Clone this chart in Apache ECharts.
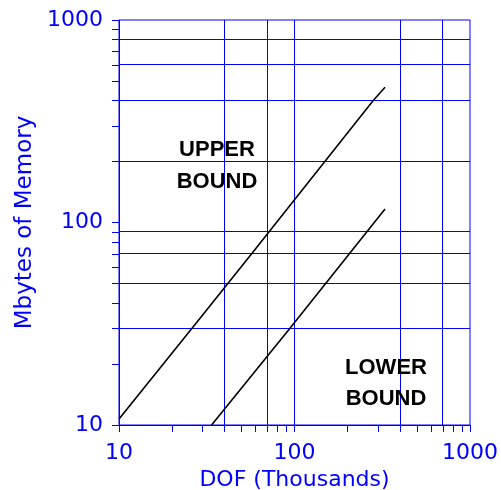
<!DOCTYPE html>
<html><head><meta charset="utf-8">
<script src="https://cdn.jsdelivr.net/npm/echarts@6/dist/echarts.min.js"></script>
<style>html,body{margin:0;padding:0;background:#fff}#c{width:501px;height:490px}</style>
</head><body><div id="c"></div>
<script>
const upperX = [10, 26, 57, 281, 328];
const upperY = [10.7, 30, 70, 400, 465];
const lowerX = [33.7, 94, 328];
const lowerY = [10, 30, 116.6];
const xGridValues = [40, 70, 100, 400, 700];
const yGridValues = [30, 50, 70, 90, 200, 400, 600, 800];
const tickValues = [10, 20, 30, 40, 50, 60, 70, 80, 90, 100, 200, 300, 400, 500, 600, 700, 800, 900, 1000];
const labelValues = [10, 100, 1000];
const axisMin = 10, axisMax = 1000;

const BLUE = '#0000ff';
const FONT = '"DejaVu Sans", sans-serif';

function pairs(xs, ys) { return xs.map((x, i) => [x, ys[i]]); }
// gridline items: [x, y, orientation] (0 = vertical at x, 1 = horizontal at y)
const gridItems = xGridValues.map(v => [v, axisMin, 0]).concat(yGridValues.map(v => [axisMin, v, 1]));
const snap = c => Math.floor(c) + 0.5;

const chart = echarts.init(document.getElementById('c'), null, {renderer: 'canvas'});
const axisCommon = {
  type: 'log', logBase: 10, min: axisMin, max: axisMax,
  axisLine: {show: true, lineStyle: {color: BLUE, width: 1}},
  axisTick: {show: true, inside: false, length: 7, customValues: tickValues, lineStyle: {color: BLUE, width: 1}},
  minorTick: {show: false},
  splitLine: {show: false},
  nameTextStyle: {color: BLUE, fontFamily: FONT, fontSize: 22}
};
const fmt = v => String(Math.round(v));
chart.setOption({
  animation: false,
  backgroundColor: '#fff',
  grid: {left: 119, top: 20, right: 31, bottom: 65, outerBoundsMode: 'none', containLabel: false,
         show: true, borderColor: BLUE, borderWidth: 1, backgroundColor: 'transparent'},
  xAxis: Object.assign({}, axisCommon, {
    name: 'DOF (Thousands)', nameLocation: 'middle', nameGap: 41,
    axisLabel: {show: true, customValues: labelValues, formatter: fmt, margin: 17, color: BLUE, fontFamily: FONT, fontSize: 22, showMinLabel: true, showMaxLabel: true}
  }),
  yAxis: Object.assign({}, axisCommon, {
    name: 'Mbytes of Memory', nameLocation: 'middle', nameGap: 74,
    nameTextStyle: {color: BLUE, fontFamily: FONT, fontSize: 23},
    axisLabel: {show: true, customValues: labelValues, formatter: fmt, margin: 16, padding: [5, 0, 0, 0], color: BLUE, fontFamily: FONT, fontSize: 22, showMinLabel: true, showMaxLabel: true}
  }),
  series: [
    {
      name: 'gridlines', type: 'custom', data: gridItems, z: 1, silent: true,
      encode: {x: 0, y: 1},
      renderItem: function (params, api) {
        const o = api.value(2);
        let p1, p2;
        if (o === 0) {
          const v = api.value(0);
          p1 = api.coord([v, axisMin]); p2 = api.coord([v, axisMax]);
          p1[0] = p2[0] = snap(p1[0]);
        } else {
          const v = api.value(1);
          p1 = api.coord([axisMin, v]); p2 = api.coord([axisMax, v]);
          p1[1] = p2[1] = snap(p1[1]);
        }
        return {type: 'line', shape: {x1: p1[0], y1: p1[1], x2: p2[0], y2: p2[1]},
                style: {stroke: BLUE, lineWidth: 1, fill: null, opacity: 1}};
      }
    },
    {name: 'Upper bound', type: 'line', data: pairs(upperX, upperY), showSymbol: false, symbol: 'none', z: 3,
     lineStyle: {color: '#000', width: 1.6}, silent: true},
    {name: 'Lower bound', type: 'line', data: pairs(lowerX, lowerY), showSymbol: false, symbol: 'none', z: 3,
     lineStyle: {color: '#000', width: 1.6}, silent: true}
  ],
  graphic: [
    {type: 'text', z: 10, style: {text: 'UPPER\nBOUND', x: 217, y: 166, align: 'center', verticalAlign: 'middle', textAlign: 'center', textVerticalAlign: 'middle', lineHeight: 32, fontFamily: '"Liberation Sans", Arial, sans-serif', fontWeight: 'bold', fontSize: 22, fill: '#000'}},
    {type: 'text', z: 10, style: {text: 'LOWER\nBOUND', x: 386, y: 383, align: 'center', verticalAlign: 'middle', textAlign: 'center', textVerticalAlign: 'middle', lineHeight: 31, fontFamily: '"Liberation Sans", Arial, sans-serif', fontWeight: 'bold', fontSize: 22, fill: '#000'}}
  ]
});
</script>
</body></html>
